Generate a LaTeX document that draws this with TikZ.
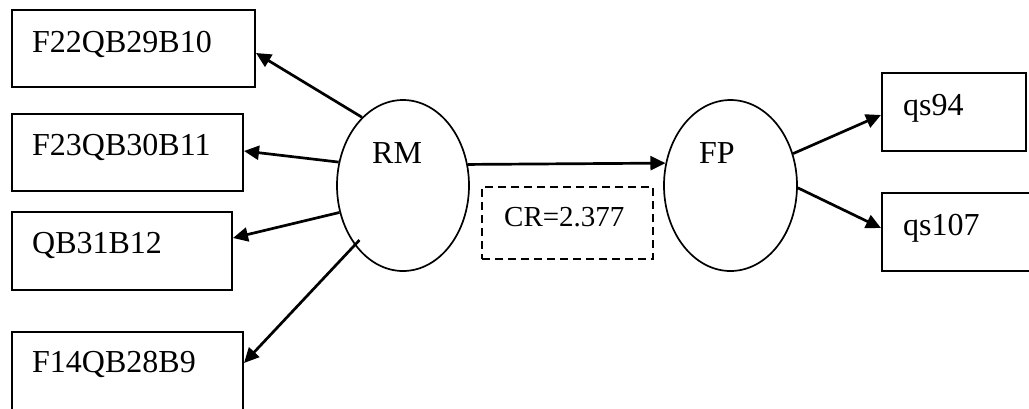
\documentclass[tikz,border=0pt]{standalone}
\usepackage{fontspec}
\setmainfont{Liberation Serif}
\usetikzlibrary{shapes.geometric,arrows.meta}
\begin{document}
\begin{tikzpicture}[x=1pt,y=-1pt,
  box/.style={draw,line width=2pt,inner sep=0pt},
  dashbox/.style={draw,line width=2.1pt,dash pattern=on 8pt off 5pt,inner sep=0pt},
  oval/.style={draw,ellipse,line width=1.7pt,inner sep=0pt},
  lbl/.style={anchor=base west,inner sep=0pt,font=\fontsize{32pt}{38pt}\selectfont},
  smalllbl/.style={anchor=base west,inner sep=0pt,font=\fontsize{29pt}{34pt}\selectfont},
  link/.style={line width=2.7pt,-{Triangle[length=15pt,width=14pt]}}]
\clip (0,0) rectangle (1029,408);
\fill[white] (0,0) rectangle (1029,408);

% output boxes on the left
\node[box,minimum width=243pt,minimum height=77pt] (b1) at (133.5,48.5) {};
\node[box,minimum width=231pt,minimum height=77pt] (b2) at (127.5,152.5) {};
\node[box,minimum width=220pt,minimum height=78pt] (b3) at (122,251) {};
\node[box,minimum width=231pt,minimum height=88pt] (b4) at (127.5,376) {};
\node[lbl] (t1) at (32,52) {F22QB29B10};
\node[lbl] (t2) at (32,155) {F23QB30B11};
\node[lbl] (t3) at (32,253) {QB31B12};
\node[lbl] (t4) at (32,372) {F14QB28B9};

% the two ovals
\node[oval,minimum width=132pt,minimum height=171pt] (RM) at (403,185.5) {};
\node[oval,minimum width=133pt,minimum height=171pt] (FP) at (730.5,185.5) {};
\node[lbl] (tRM) at (372,163) {RM};
\node[lbl] (tFP) at (699,163) {FP};

% ratio label
\node[dashbox,minimum width=171pt,minimum height=72pt] (cr) at (567.5,223) {};
\node[smalllbl] (tcr) at (504,226) {CR=2.377};

% output boxes on the right
\node[box,minimum width=144pt,minimum height=78pt] (q1) at (954,112) {};
\node[box,minimum width=158pt,minimum height=78pt] (q2) at (961,232) {};
\node[lbl] (tq1) at (903,115) {qs94};
\node[lbl] (tq2) at (903,235) {qs107};

% connectors
\draw[link] (RM.121) -- ([yshift=-4.5pt]b1.east);
\draw[link] (RM.160) -- ([yshift=1.5pt]b2.east);
\draw[link] (RM.203) -- ([yshift=13pt]b3.east);
\draw[link,shorten <=-7pt] (RM.231) -- ([yshift=13pt]b4.east);
\draw[link] (RM.18.6) -- (FP.161.4);
\draw[link] (FP.27) -- ([yshift=-3pt]q1.west);
\draw[link] (FP.-2) -- ([yshift=4pt]q2.west);
\end{tikzpicture}
\end{document}
